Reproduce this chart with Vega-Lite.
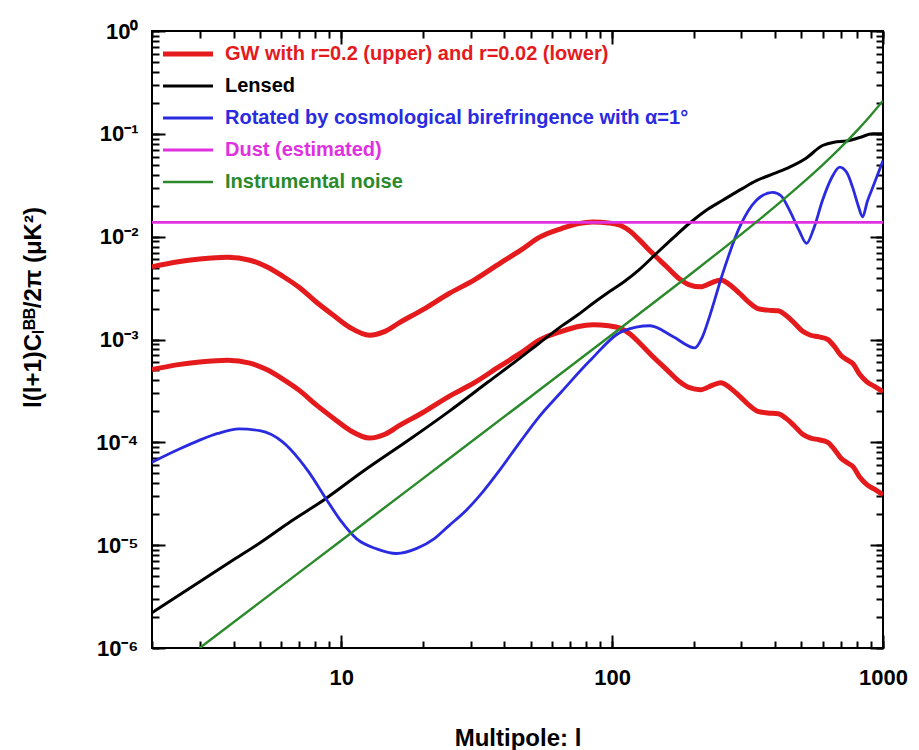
{
  "$schema": "https://vega.github.io/schema/vega-lite/v6.json",
  "width": 731,
  "height": 617,
  "autosize": "none",
  "padding": {"left": 152, "top": 31, "right": 36, "bottom": 102},
  "background": "white",
  "config": {
    "view": {"stroke": "black", "strokeWidth": 2},
    "font": "Liberation Sans",
    "axis": {
      "domain": false,
      "grid": false,
      "ticks": true,
      "tickColor": "black",
      "tickWidth": 2,
      "labelColor": "black",
      "titleColor": "black",
      "labelFont": "Liberation Sans",
      "labelFontWeight": "bold",
      "titleFont": "Liberation Sans",
      "titleFontWeight": "bold",
      "labelOverlap": false,
      "labelFlush": false
    }
  },
  "data": {
    "values": [
      {"s": "GW", "c": "gwU", "l": 2, "v": 0.0051},
      {"s": "GW", "c": "gwU", "l": 2.5, "v": 0.0057},
      {"s": "GW", "c": "gwU", "l": 3, "v": 0.00605},
      {"s": "GW", "c": "gwU", "l": 3.8, "v": 0.0063},
      {"s": "GW", "c": "gwU", "l": 4.6, "v": 0.0059},
      {"s": "GW", "c": "gwU", "l": 5.3, "v": 0.0051},
      {"s": "GW", "c": "gwU", "l": 6.1, "v": 0.0041},
      {"s": "GW", "c": "gwU", "l": 7, "v": 0.0032},
      {"s": "GW", "c": "gwU", "l": 8.1, "v": 0.0023},
      {"s": "GW", "c": "gwU", "l": 9.4, "v": 0.0017},
      {"s": "GW", "c": "gwU", "l": 10.8, "v": 0.0013},
      {"s": "GW", "c": "gwU", "l": 12.7, "v": 0.0011},
      {"s": "GW", "c": "gwU", "l": 14.5, "v": 0.0012},
      {"s": "GW", "c": "gwU", "l": 16.4, "v": 0.00146},
      {"s": "GW", "c": "gwU", "l": 20, "v": 0.00195},
      {"s": "GW", "c": "gwU", "l": 25, "v": 0.0028},
      {"s": "GW", "c": "gwU", "l": 31, "v": 0.0038},
      {"s": "GW", "c": "gwU", "l": 38.5, "v": 0.0055},
      {"s": "GW", "c": "gwU", "l": 46, "v": 0.0074},
      {"s": "GW", "c": "gwU", "l": 54, "v": 0.0099},
      {"s": "GW", "c": "gwU", "l": 65, "v": 0.012},
      {"s": "GW", "c": "gwU", "l": 75, "v": 0.0134},
      {"s": "GW", "c": "gwU", "l": 85, "v": 0.0139},
      {"s": "GW", "c": "gwU", "l": 97, "v": 0.0136},
      {"s": "GW", "c": "gwU", "l": 107, "v": 0.0129},
      {"s": "GW", "c": "gwU", "l": 117, "v": 0.0112},
      {"s": "GW", "c": "gwU", "l": 126, "v": 0.0093},
      {"s": "GW", "c": "gwU", "l": 140, "v": 0.007},
      {"s": "GW", "c": "gwU", "l": 159, "v": 0.0051},
      {"s": "GW", "c": "gwU", "l": 177, "v": 0.0039},
      {"s": "GW", "c": "gwU", "l": 193, "v": 0.0034},
      {"s": "GW", "c": "gwU", "l": 212, "v": 0.00325},
      {"s": "GW", "c": "gwU", "l": 235, "v": 0.0036},
      {"s": "GW", "c": "gwU", "l": 252, "v": 0.0038},
      {"s": "GW", "c": "gwU", "l": 272, "v": 0.0034},
      {"s": "GW", "c": "gwU", "l": 296, "v": 0.0028},
      {"s": "GW", "c": "gwU", "l": 320, "v": 0.0023},
      {"s": "GW", "c": "gwU", "l": 345, "v": 0.002},
      {"s": "GW", "c": "gwU", "l": 375, "v": 0.00193},
      {"s": "GW", "c": "gwU", "l": 410, "v": 0.0019},
      {"s": "GW", "c": "gwU", "l": 440, "v": 0.0017},
      {"s": "GW", "c": "gwU", "l": 470, "v": 0.00145},
      {"s": "GW", "c": "gwU", "l": 505, "v": 0.0012},
      {"s": "GW", "c": "gwU", "l": 540, "v": 0.0011},
      {"s": "GW", "c": "gwU", "l": 580, "v": 0.00106},
      {"s": "GW", "c": "gwU", "l": 625, "v": 0.001},
      {"s": "GW", "c": "gwU", "l": 660, "v": 0.00086},
      {"s": "GW", "c": "gwU", "l": 700, "v": 0.0007},
      {"s": "GW", "c": "gwU", "l": 740, "v": 0.00063},
      {"s": "GW", "c": "gwU", "l": 775, "v": 0.00058},
      {"s": "GW", "c": "gwU", "l": 820, "v": 0.00046},
      {"s": "GW", "c": "gwU", "l": 870, "v": 0.00039},
      {"s": "GW", "c": "gwU", "l": 930, "v": 0.00035},
      {"s": "GW", "c": "gwU", "l": 1000, "v": 0.00031},

      {"s": "GW", "c": "gwL", "l": 2, "v": 0.00051},
      {"s": "GW", "c": "gwL", "l": 2.5, "v": 0.00057},
      {"s": "GW", "c": "gwL", "l": 3, "v": 0.000605},
      {"s": "GW", "c": "gwL", "l": 3.8, "v": 0.00063},
      {"s": "GW", "c": "gwL", "l": 4.6, "v": 0.00059},
      {"s": "GW", "c": "gwL", "l": 5.3, "v": 0.00051},
      {"s": "GW", "c": "gwL", "l": 6.1, "v": 0.00041},
      {"s": "GW", "c": "gwL", "l": 7, "v": 0.00032},
      {"s": "GW", "c": "gwL", "l": 8.1, "v": 0.00023},
      {"s": "GW", "c": "gwL", "l": 9.4, "v": 0.00017},
      {"s": "GW", "c": "gwL", "l": 10.8, "v": 0.00013},
      {"s": "GW", "c": "gwL", "l": 12.7, "v": 0.00011},
      {"s": "GW", "c": "gwL", "l": 14.5, "v": 0.00012},
      {"s": "GW", "c": "gwL", "l": 16.4, "v": 0.000146},
      {"s": "GW", "c": "gwL", "l": 20, "v": 0.000195},
      {"s": "GW", "c": "gwL", "l": 25, "v": 0.00028},
      {"s": "GW", "c": "gwL", "l": 31, "v": 0.00038},
      {"s": "GW", "c": "gwL", "l": 38.5, "v": 0.00055},
      {"s": "GW", "c": "gwL", "l": 46, "v": 0.00074},
      {"s": "GW", "c": "gwL", "l": 54, "v": 0.00099},
      {"s": "GW", "c": "gwL", "l": 65, "v": 0.0012},
      {"s": "GW", "c": "gwL", "l": 75, "v": 0.00134},
      {"s": "GW", "c": "gwL", "l": 85, "v": 0.00139},
      {"s": "GW", "c": "gwL", "l": 97, "v": 0.00136},
      {"s": "GW", "c": "gwL", "l": 107, "v": 0.00129},
      {"s": "GW", "c": "gwL", "l": 117, "v": 0.00112},
      {"s": "GW", "c": "gwL", "l": 126, "v": 0.00093},
      {"s": "GW", "c": "gwL", "l": 140, "v": 0.0007},
      {"s": "GW", "c": "gwL", "l": 159, "v": 0.00051},
      {"s": "GW", "c": "gwL", "l": 177, "v": 0.00039},
      {"s": "GW", "c": "gwL", "l": 193, "v": 0.00034},
      {"s": "GW", "c": "gwL", "l": 212, "v": 0.000325},
      {"s": "GW", "c": "gwL", "l": 235, "v": 0.00036},
      {"s": "GW", "c": "gwL", "l": 252, "v": 0.00038},
      {"s": "GW", "c": "gwL", "l": 272, "v": 0.00034},
      {"s": "GW", "c": "gwL", "l": 296, "v": 0.00028},
      {"s": "GW", "c": "gwL", "l": 320, "v": 0.00023},
      {"s": "GW", "c": "gwL", "l": 345, "v": 0.0002},
      {"s": "GW", "c": "gwL", "l": 375, "v": 0.000193},
      {"s": "GW", "c": "gwL", "l": 410, "v": 0.00019},
      {"s": "GW", "c": "gwL", "l": 440, "v": 0.00017},
      {"s": "GW", "c": "gwL", "l": 470, "v": 0.000145},
      {"s": "GW", "c": "gwL", "l": 505, "v": 0.00012},
      {"s": "GW", "c": "gwL", "l": 540, "v": 0.00011},
      {"s": "GW", "c": "gwL", "l": 580, "v": 0.000106},
      {"s": "GW", "c": "gwL", "l": 625, "v": 0.0001},
      {"s": "GW", "c": "gwL", "l": 660, "v": 0.000086},
      {"s": "GW", "c": "gwL", "l": 700, "v": 0.00007},
      {"s": "GW", "c": "gwL", "l": 740, "v": 0.000063},
      {"s": "GW", "c": "gwL", "l": 775, "v": 0.000058},
      {"s": "GW", "c": "gwL", "l": 820, "v": 0.000046},
      {"s": "GW", "c": "gwL", "l": 870, "v": 0.000039},
      {"s": "GW", "c": "gwL", "l": 930, "v": 0.000035},
      {"s": "GW", "c": "gwL", "l": 1000, "v": 0.000031},

      {"s": "Lensed", "c": "lens", "l": 2, "v": 0.0000022},
      {"s": "Lensed", "c": "lens", "l": 3, "v": 0.0000044},
      {"s": "Lensed", "c": "lens", "l": 4, "v": 0.0000072},
      {"s": "Lensed", "c": "lens", "l": 5, "v": 0.0000105},
      {"s": "Lensed", "c": "lens", "l": 6.5, "v": 0.000017},
      {"s": "Lensed", "c": "lens", "l": 8.7, "v": 0.000028},
      {"s": "Lensed", "c": "lens", "l": 12, "v": 0.000052},
      {"s": "Lensed", "c": "lens", "l": 17.9, "v": 0.000107},
      {"s": "Lensed", "c": "lens", "l": 25, "v": 0.0002},
      {"s": "Lensed", "c": "lens", "l": 35, "v": 0.00039},
      {"s": "Lensed", "c": "lens", "l": 45, "v": 0.00064},
      {"s": "Lensed", "c": "lens", "l": 54, "v": 0.00093},
      {"s": "Lensed", "c": "lens", "l": 65, "v": 0.00135},
      {"s": "Lensed", "c": "lens", "l": 75, "v": 0.00175},
      {"s": "Lensed", "c": "lens", "l": 86, "v": 0.0023},
      {"s": "Lensed", "c": "lens", "l": 95.5, "v": 0.0028},
      {"s": "Lensed", "c": "lens", "l": 110, "v": 0.0036},
      {"s": "Lensed", "c": "lens", "l": 125, "v": 0.0047},
      {"s": "Lensed", "c": "lens", "l": 146, "v": 0.0069},
      {"s": "Lensed", "c": "lens", "l": 170, "v": 0.01},
      {"s": "Lensed", "c": "lens", "l": 193, "v": 0.0135},
      {"s": "Lensed", "c": "lens", "l": 222, "v": 0.018},
      {"s": "Lensed", "c": "lens", "l": 256, "v": 0.0226},
      {"s": "Lensed", "c": "lens", "l": 300, "v": 0.029},
      {"s": "Lensed", "c": "lens", "l": 341, "v": 0.035},
      {"s": "Lensed", "c": "lens", "l": 395, "v": 0.041},
      {"s": "Lensed", "c": "lens", "l": 452, "v": 0.0475},
      {"s": "Lensed", "c": "lens", "l": 520, "v": 0.058},
      {"s": "Lensed", "c": "lens", "l": 598, "v": 0.077},
      {"s": "Lensed", "c": "lens", "l": 660, "v": 0.083},
      {"s": "Lensed", "c": "lens", "l": 734, "v": 0.085},
      {"s": "Lensed", "c": "lens", "l": 820, "v": 0.092},
      {"s": "Lensed", "c": "lens", "l": 916, "v": 0.1},
      {"s": "Lensed", "c": "lens", "l": 1000, "v": 0.1},

      {"s": "Rot", "c": "rot", "l": 2, "v": 0.000064},
      {"s": "Rot", "c": "rot", "l": 2.5, "v": 0.000085},
      {"s": "Rot", "c": "rot", "l": 3, "v": 0.000105},
      {"s": "Rot", "c": "rot", "l": 3.5, "v": 0.000122},
      {"s": "Rot", "c": "rot", "l": 4.2, "v": 0.000135},
      {"s": "Rot", "c": "rot", "l": 5, "v": 0.00013},
      {"s": "Rot", "c": "rot", "l": 6.1, "v": 0.0001},
      {"s": "Rot", "c": "rot", "l": 7, "v": 0.000068},
      {"s": "Rot", "c": "rot", "l": 7.6, "v": 0.000051},
      {"s": "Rot", "c": "rot", "l": 8.8, "v": 0.000028},
      {"s": "Rot", "c": "rot", "l": 10, "v": 0.000017},
      {"s": "Rot", "c": "rot", "l": 11.4, "v": 0.0000115},
      {"s": "Rot", "c": "rot", "l": 13.5, "v": 0.0000092},
      {"s": "Rot", "c": "rot", "l": 16, "v": 0.0000083},
      {"s": "Rot", "c": "rot", "l": 19, "v": 0.0000093},
      {"s": "Rot", "c": "rot", "l": 22, "v": 0.0000115},
      {"s": "Rot", "c": "rot", "l": 25, "v": 0.0000155},
      {"s": "Rot", "c": "rot", "l": 29, "v": 0.000022},
      {"s": "Rot", "c": "rot", "l": 33.3, "v": 0.000033},
      {"s": "Rot", "c": "rot", "l": 38.5, "v": 0.000054},
      {"s": "Rot", "c": "rot", "l": 45.6, "v": 0.0001},
      {"s": "Rot", "c": "rot", "l": 54, "v": 0.00018},
      {"s": "Rot", "c": "rot", "l": 65, "v": 0.00031},
      {"s": "Rot", "c": "rot", "l": 82.7, "v": 0.00062},
      {"s": "Rot", "c": "rot", "l": 109, "v": 0.0012},
      {"s": "Rot", "c": "rot", "l": 138, "v": 0.00136},
      {"s": "Rot", "c": "rot", "l": 167.5, "v": 0.00107},
      {"s": "Rot", "c": "rot", "l": 202, "v": 0.00083},
      {"s": "Rot", "c": "rot", "l": 215, "v": 0.00105},
      {"s": "Rot", "c": "rot", "l": 229, "v": 0.00168},
      {"s": "Rot", "c": "rot", "l": 256, "v": 0.0044},
      {"s": "Rot", "c": "rot", "l": 296, "v": 0.0125},
      {"s": "Rot", "c": "rot", "l": 341, "v": 0.0226},
      {"s": "Rot", "c": "rot", "l": 392, "v": 0.027},
      {"s": "Rot", "c": "rot", "l": 420, "v": 0.025},
      {"s": "Rot", "c": "rot", "l": 452, "v": 0.018},
      {"s": "Rot", "c": "rot", "l": 490, "v": 0.0115},
      {"s": "Rot", "c": "rot", "l": 522, "v": 0.0086},
      {"s": "Rot", "c": "rot", "l": 555, "v": 0.012},
      {"s": "Rot", "c": "rot", "l": 598, "v": 0.0226},
      {"s": "Rot", "c": "rot", "l": 645, "v": 0.037},
      {"s": "Rot", "c": "rot", "l": 692, "v": 0.0475},
      {"s": "Rot", "c": "rot", "l": 735, "v": 0.042},
      {"s": "Rot", "c": "rot", "l": 773, "v": 0.03},
      {"s": "Rot", "c": "rot", "l": 810, "v": 0.02},
      {"s": "Rot", "c": "rot", "l": 841, "v": 0.0156},
      {"s": "Rot", "c": "rot", "l": 875, "v": 0.022},
      {"s": "Rot", "c": "rot", "l": 916, "v": 0.03},
      {"s": "Rot", "c": "rot", "l": 1000, "v": 0.055},

      {"s": "Dust", "c": "dust", "l": 2, "v": 0.0138},
      {"s": "Dust", "c": "dust", "l": 1000, "v": 0.0138},

      {"s": "Noise", "c": "noise", "l": 3, "v": 0.000001},
      {"s": "Noise", "c": "noise", "l": 5, "v": 0.00000278},
      {"s": "Noise", "c": "noise", "l": 10, "v": 0.0000111},
      {"s": "Noise", "c": "noise", "l": 20, "v": 0.0000444},
      {"s": "Noise", "c": "noise", "l": 50, "v": 0.000278},
      {"s": "Noise", "c": "noise", "l": 100, "v": 0.00112},
      {"s": "Noise", "c": "noise", "l": 200, "v": 0.00456},
      {"s": "Noise", "c": "noise", "l": 300, "v": 0.0106},
      {"s": "Noise", "c": "noise", "l": 400, "v": 0.0197},
      {"s": "Noise", "c": "noise", "l": 500, "v": 0.0326},
      {"s": "Noise", "c": "noise", "l": 600, "v": 0.0503},
      {"s": "Noise", "c": "noise", "l": 700, "v": 0.0744},
      {"s": "Noise", "c": "noise", "l": 800, "v": 0.107},
      {"s": "Noise", "c": "noise", "l": 900, "v": 0.151},
      {"s": "Noise", "c": "noise", "l": 1000, "v": 0.21}
    ]
  },
  "layer": [
    {
      "mark": {"type": "line", "interpolate": "monotone", "clip": true},
      "encoding": {
        "x": {
          "field": "l", "type": "quantitative",
          "scale": {"type": "log", "domain": [2, 1000], "nice": false, "zero": false},
          "axis": {
            "orient": "bottom",
            "values": [2,3,4,5,6,7,8,9,10,20,30,40,50,60,70,80,90,100,200,300,400,500,600,700,800,900,1000],
            "labelExpr": "abs(log(datum.value)/LN10 - round(log(datum.value)/LN10)) < 0.01 ? format(datum.value, 'd') : ''",
            "tickSize": -7,
            "labelFontSize": 22,
            "labelPadding": 26,
            "title": "Multipole: l",
            "titleFontSize": 24,
            "titleBaseline": "alphabetic",
            "titleY": 97
          }
        },
        "y": {
          "field": "v", "type": "quantitative",
          "scale": {"type": "log", "domain": [0.000001, 1], "nice": false, "zero": false},
          "axis": {
            "orient": "left",
            "values": [1e-6,2e-6,3e-6,4e-6,5e-6,6e-6,7e-6,8e-6,9e-6,1e-5,2e-5,3e-5,4e-5,5e-5,6e-5,7e-5,8e-5,9e-5,1e-4,2e-4,3e-4,4e-4,5e-4,6e-4,7e-4,8e-4,9e-4,1e-3,2e-3,3e-3,4e-3,5e-3,6e-3,7e-3,8e-3,9e-3,1e-2,2e-2,3e-2,4e-2,5e-2,6e-2,7e-2,8e-2,9e-2,0.1,0.2,0.3,0.4,0.5,0.6,0.7,0.8,0.9,1],
            "labelExpr": "abs(log(datum.value)/LN10 - round(log(datum.value)/LN10)) < 0.01 ? '10' + ['⁰','⁻¹','⁻²','⁻³','⁻⁴','⁻⁵','⁻⁶'][-round(log(datum.value)/LN10)] : ''",
            "tickSize": -7,
            "labelFontSize": 22,
            "labelPadding": 21,
            "title": "l(l+1)Cₗᴮᴮ/2π (μK²)",
            "titleFontSize": 24,
            "titleAngle": -90,
            "titleAlign": "center",
            "titleBaseline": "middle",
            "titleX": -119,
            "titleY": 276
          }
        },
        "color": {
          "field": "s", "type": "nominal",
          "scale": {
            "domain": ["GW", "Lensed", "Rot", "Dust", "Noise"],
            "range": ["#e41a1c", "#000000", "#2a2ae0", "#e030e0", "#2a8a2a"]
          },
          "legend": {
            "orient": "none",
            "legendX": 26,
            "legendY": 13,
            "title": null,
            "padding": 0,
            "symbolType": "M-5,0H5",
            "symbolSize": 100,
            "labelFont": "Liberation Sans",
            "labelFontWeight": "bold",
            "labelFontSize": 20,
            "labelOffset": 27,
            "rowPadding": 12,
            "labelLimit": 700,
            "labelExpr": "datum.value == 'GW' ? 'GW with r=0.2 (upper) and r=0.02 (lower)' : datum.value == 'Lensed' ? 'Lensed' : datum.value == 'Rot' ? 'Rotated by cosmological birefringence with α=1°' : datum.value == 'Dust' ? 'Dust (estimated)' : 'Instrumental noise'",
            "encode": {
              "labels": {"update": {"fill": {"scale": "color", "field": "value"}}},
              "symbols": {"update": {"strokeWidth": {"signal": "datum.value == 'GW' ? 5 : 3"}}}
            }
          }
        },
        "strokeWidth": {
          "field": "s", "type": "nominal",
          "scale": {"type": "ordinal", "domain": ["GW", "Lensed", "Rot", "Dust", "Noise"], "range": [5, 3, 2.8, 2.8, 2.4]},
          "legend": null
        },
        "detail": {"field": "c", "type": "nominal"}
      }
    },
    {
      "mark": {"type": "point", "opacity": 0},
      "encoding": {
        "x": {
          "field": "l", "type": "quantitative",
          "axis": {"orient": "bottom", "offset": -13, "values": [10, 100, 1000], "labels": false, "title": null, "tickSize": 13}
        },
        "y": {
          "field": "v", "type": "quantitative",
          "axis": {"orient": "left", "offset": -13, "values": [1e-6, 1e-5, 1e-4, 1e-3, 1e-2, 0.1, 1], "labels": false, "title": null, "tickSize": 13}
        }
      }
    },
    {
      "mark": {"type": "point", "opacity": 0},
      "encoding": {
        "x": {
          "field": "l", "type": "quantitative",
          "axis": {
            "orient": "top", "offset": -7,
            "values": [2,3,4,5,6,7,8,9,10,20,30,40,50,60,70,80,90,100,200,300,400,500,600,700,800,900,1000],
            "labels": false, "title": null, "tickSize": 7
          }
        },
        "y": {
          "field": "v", "type": "quantitative",
          "axis": {
            "orient": "right", "offset": -7,
            "values": [1e-6,2e-6,3e-6,4e-6,5e-6,6e-6,7e-6,8e-6,9e-6,1e-5,2e-5,3e-5,4e-5,5e-5,6e-5,7e-5,8e-5,9e-5,1e-4,2e-4,3e-4,4e-4,5e-4,6e-4,7e-4,8e-4,9e-4,1e-3,2e-3,3e-3,4e-3,5e-3,6e-3,7e-3,8e-3,9e-3,1e-2,2e-2,3e-2,4e-2,5e-2,6e-2,7e-2,8e-2,9e-2,0.1,0.2,0.3,0.4,0.5,0.6,0.7,0.8,0.9,1],
            "labels": false, "title": null, "tickSize": 7
          }
        }
      }
    },
    {
      "mark": {"type": "point", "opacity": 0},
      "encoding": {
        "x": {
          "field": "l", "type": "quantitative",
          "axis": {"orient": "top", "offset": -13, "values": [10, 100, 1000], "labels": false, "title": null, "tickSize": 13}
        },
        "y": {
          "field": "v", "type": "quantitative",
          "axis": {"orient": "right", "offset": -13, "values": [1e-6, 1e-5, 1e-4, 1e-3, 1e-2, 0.1, 1], "labels": false, "title": null, "tickSize": 13}
        }
      }
    }
  ],
  "resolve": {"axis": {"x": "independent", "y": "independent"}}
}
